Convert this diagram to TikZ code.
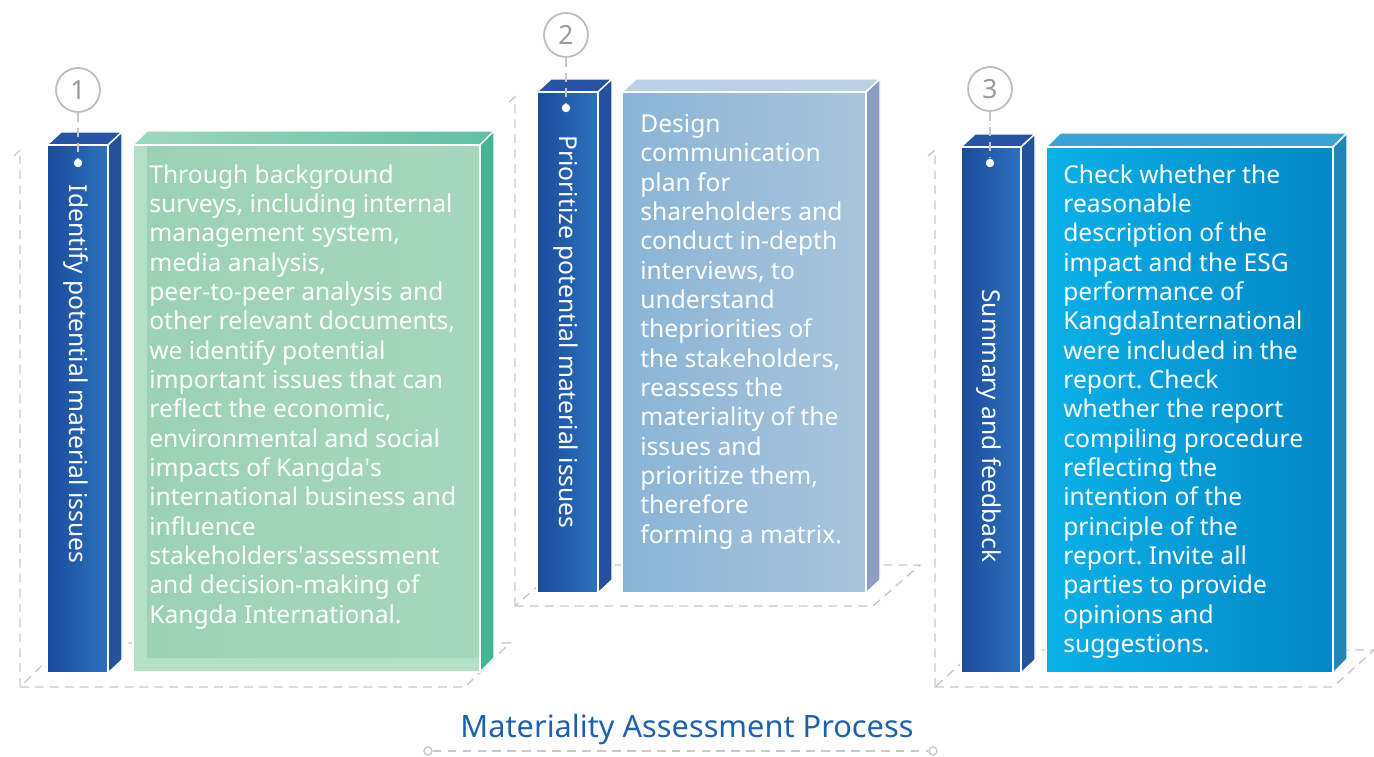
\documentclass[tikz,border=0pt]{standalone}
\usepackage{fontspec}
\setmainfont{Noto Sans}
\usetikzlibrary{positioning, calc}
\frenchspacing

\definecolor{bardark}{HTML}{1B4A9B}
\definecolor{barlight}{HTML}{2C72BC}
\definecolor{bartop}{HTML}{2654A3}
\definecolor{barside}{HTML}{24509C}
\definecolor{greenfront}{HTML}{9CD1B5}
\definecolor{greenleft}{HTML}{B3DFC6}
\definecolor{greentop}{HTML}{9FD7BF}
\definecolor{greenside}{HTML}{43B595}
\definecolor{skyleft}{HTML}{8BB4D5}
\definecolor{skyright}{HTML}{A8C4DC}
\definecolor{skytop}{HTML}{BCD1E5}
\definecolor{skyside}{HTML}{8E9CC5}
\definecolor{cyanleft}{HTML}{0AB0E8}
\definecolor{cyanright}{HTML}{0387C5}
\definecolor{cyantop}{HTML}{3AA3D4}
\definecolor{cyanside}{HTML}{2484B8}
\definecolor{guide}{HTML}{C8C8C8}
\definecolor{ringgray}{HTML}{BDBDBD}
\definecolor{numgray}{HTML}{9A9A9A}
\definecolor{titleblue}{HTML}{1C62AE}

\tikzset{
  face/.style={draw=white, line width=0.8pt, line join=round},
  guideline/.style={draw=guide, dash pattern=on 5pt off 3.5pt, line width=0.8pt},
  numring/.style={circle, draw=ringgray, fill=white, line width=1pt, minimum size=0.88cm, inner sep=0pt, text=numgray, font=\fontsize{15}{15}\selectfont},
  pin/.style={circle, fill=white, minimum size=0.17cm, inner sep=0pt},
  endring/.style={circle, draw=guide, fill=white, line width=0.8pt, minimum size=0.16cm, inner sep=0pt},
  bodytext/.style={anchor=north west, inner sep=0pt, align=left, text=white, font=\fontsize{14}{16.7}\selectfont},
  steptext/.style={rotate=-90, inner sep=0pt, text=white, font=\fontsize{14}{16.7}\selectfont}
}

\begin{document}
\begin{tikzpicture}[x=0.02cm, y=-0.02cm]
\useasboundingbox (0,0) rectangle (1374,757);

% floors
\draw[guideline] (20,687) -- (465,687) -- (510,643) -- (65,643) -- cycle;
\draw[guideline] (20,687) -- (20,150) -- (14,156);
\draw[guideline] (515,606) -- (873,606) -- (920,565) -- (562,565) -- cycle;
\draw[guideline] (515,606) -- (515,97) -- (508,103);
\draw[guideline] (935,687) -- (1333,687) -- (1374,650) -- (976,650) -- cycle;
\draw[guideline] (935,687) -- (935,150) -- (928,156);

% step 1
\fill[bartop, face] (47,145) -- (61,132) -- (122,132) -- (108,145) -- cycle;
\fill[barside, face] (108,145) -- (122,132) -- (122,660) -- (108,673) -- cycle;
\shadedraw[left color=bardark, right color=barlight, face] (47,145) rectangle (108,673);
\shadedraw[left color=greentop, right color=greenside!70!greentop, face] (133,145) -- (147,131) -- (494,131) -- (480,145) -- cycle;
\fill[greenside, face] (480,145) -- (494,131) -- (494,658) -- (480,672) -- cycle;
\shadedraw[left color=greenfront, right color=greenfront!90!white, face] (133,145) rectangle (480,672);
\fill[greenleft] (134,146) rectangle (147,671);
\fill[greenleft] (147,658) rectangle (479,671);

% step 2
\fill[bartop, face] (537,92) -- (551,79) -- (612,79) -- (598,92) -- cycle;
\fill[barside, face] (598,92) -- (612,79) -- (612,580) -- (598,593) -- cycle;
\shadedraw[left color=bardark, right color=barlight, face] (537,92) rectangle (598,593);
\fill[skytop, face] (622,92) -- (636,79) -- (880,79) -- (866,92) -- cycle;
\fill[skyside, face] (866,92) -- (880,79) -- (880,580) -- (866,593) -- cycle;
\shadedraw[left color=skyleft, right color=skyright, face] (622,92) rectangle (866,593);

% step 3
\fill[bartop, face] (961,147) -- (975,134) -- (1035,134) -- (1021,147) -- cycle;
\fill[barside, face] (1021,147) -- (1035,134) -- (1035,660) -- (1021,673) -- cycle;
\shadedraw[left color=bardark, right color=barlight, face] (961,147) rectangle (1021,673);
\fill[cyantop, face] (1046,147) -- (1060,133) -- (1347,133) -- (1333,147) -- cycle;
\fill[cyanside, face] (1333,147) -- (1347,133) -- (1347,659) -- (1333,673) -- cycle;
\shadedraw[left color=cyanleft, right color=cyanright, face] (1046,147) rectangle (1333,673);

% numbers
\node[numring] (one) at (78,90) {1};
\node[pin] (pinone) at (78,163) {};
\draw[guideline] (one) -- (pinone);
\node[numring] (two) at (566,35) {2};
\node[pin] (pintwo) at (566,108) {};
\draw[guideline] (two) -- (pintwo);
\node[numring] (three) at (990,89) {3};
\node[pin] (pinthree) at (990,163) {};
\draw[guideline] (three) -- (pinthree);

% vertical labels
\node[steptext] (identify) at (76,374) {Identify potential material issues};
\node[steptext] (prioritize) at (566,332) {Prioritize potential material issues};
\node[steptext] (summary) at (989,426) {Summary and feedback};

% texts
\node[bodytext] (survey) at (149,164) {Through background\\surveys, including internal\\management system,\\media analysis,\\peer-to-peer analysis and\\other relevant documents,\\we identify potential\\important issues that can\\reflect the economic,\\environmental and social\\impacts of Kangda\textquotesingle s\\international business and\\influence\\stakeholders\textquotesingle assessment\\and decision-making of\\Kangda International.};
\node[bodytext] (design) at (640,114) {Design\\communication\\plan for\\shareholders and\\conduct in-depth\\interviews, to\\understand\\thepriorities of\\the stakeholders,\\reassess the\\materiality of the\\issues and\\prioritize them,\\therefore\\forming a matrix.};
\node[bodytext] (check) at (1063,164) {Check whether the\\reasonable\\description of the\\impact and the ESG\\performance of\\KangdaInternational\\were included in the\\report. Check\\whether the report\\compiling procedure\\reflecting the\\intention of the\\principle of the\\report. Invite all\\parties to provide\\opinions and\\suggestions.};

% title
\node[text=titleblue, font=\fontsize{17.5}{20}\selectfont] (title) at (687,730) {Materiality Assessment Process};
\node[endring] (lefttip) at (428,751) {};
\node[endring] (righttip) at (933,751) {};
\draw[guideline] (lefttip) -- (righttip);
\end{tikzpicture}
\end{document}
